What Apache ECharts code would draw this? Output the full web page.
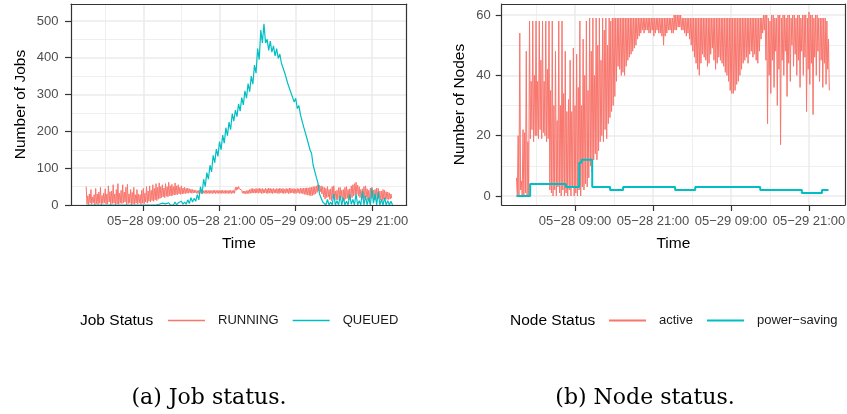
<!DOCTYPE html>
<html><head><meta charset="utf-8">
<script src="https://cdn.jsdelivr.net/npm/echarts@6/dist/echarts.min.js"></script>
<style>html,body{margin:0;padding:0;background:#fff}#c{width:847px;height:414px}</style>
</head><body><div id="c"></div>
<script>
// sampling bins (hours since 05-28 00:00)
const binHours = [0,0.5,1,1.5,2,2.5,3,3.5,4,4.5,5,5.5,6,6.5,7,7.5,8,8.5,9,9.5,10,10.5,11,11.5,12,12.5,13,13.5,14,14.5,15,15.5,16,16.5,17,17.5,18,18.5,19,19.5,20,20.5,21,21.5,22,22.5,23,23.5,24,24.5,25,25.5,26,26.5,27,27.5,28,28.5,29,29.5,30,30.5,31,31.5,32,32.5,33,33.5,34,34.5,35,35.5,36,36.5,37,37.5,38,38.5,39,39.5,40,40.5,41,41.5,42,42.5,43,43.5,44,44.5,45,45.5,46,46.5,47,47.5,48];
const fineHours = [
  0,0.25,0.5,0.75,1,1.25,1.5,1.75,
  2,2.25,2.5,2.75,3,3.25,3.5,3.75,
  4,4.25,4.5,4.75,5,5.25,5.5,5.75,
  6,6.25,6.5,6.75,7,7.25,7.5,7.75,
  8,8.25,8.5,8.75,9,9.25,9.5,9.75,
  10,10.25,10.5,10.75,11,11.25,11.5,11.75,
  12,12.25,12.5,12.75,13,13.25,13.5,13.75,
  14,14.25,14.5,14.75,15,15.25,15.5,15.75,
  16,16.25,16.5,16.75,17,17.25,17.5,17.75,
  18,18.25,18.5,18.75,19,19.25,19.5,19.75,
  20,20.25,20.5,20.75,21,21.25,21.5,21.75,
  22,22.25,22.5,22.75,23,23.25,23.5,23.75,
  24,24.25,24.5,24.75,25,25.25,25.5,25.75,
  26,26.25,26.5,26.75,27,27.25,27.5,27.75,
  28,28.25,28.5,28.75,29,29.25,29.5,29.75,
  30,30.25,30.5,30.75,31,31.25,31.5,31.75,
  32,32.25,32.5,32.75,33,33.25,33.5,33.75,
  34,34.25,34.5,34.75,35,35.25,35.5,35.75,
  36,36.25,36.5,36.75,37,37.25,37.5,37.75,
  38,38.25,38.5,38.75,39,39.25,39.5,39.75,
  40,40.25,40.5,40.75,41,41.25,41.5,41.75,
  42,42.25,42.5,42.75,43,43.25,43.5,43.75,
  44,44.25,44.5,44.75,45,45.25,45.5,45.75,
  46,46.25,46.5,46.75,47,47.25,47.5,47.75,
  48];

// (a) Job status: per-bin high / low samples
const runningHigh = [50,25,30,42,22,28,45,30,35,48, 26,32,44,30,52,36,38,55,30,42, 58,32,40,55,35,48,56,30,42,34, 48,28,42,30,28,40,45,32,50,38, 52,40,55,45,58,48,60,50,55,46, 58,50,62,52,56,50,60,52,55,48, 52,46,48,45,46,44,43,42,41,
  40,39,40,39,40,39,40,40,39,40,39,40,40,39,40,39,40,40,39,40,39,40,40,39,40,
  48,49,50,48,40,38,38,39,40,42,
  44,45,43,45,44,46,44,45,43,45,44,46,45,44,45,43,45,44,46,44,45,43,45,44,46,45,44,45,43,45,44,46,45,46,
  46,47,46,48,48,50,50,52,55,54, 52,50,48,45,50,42,44,50,52,38, 40,47,48,40,42,48,50,42,44,52, 55,58,62,54,50,42,44,50,52,44, 40,46,48,40,42,46,45,38,38,42, 40,36,35,33,30];
const runningLow = [3,0,5,2,6,0,4,1,5,0, 4,6,2,3,8,0,4,5,0,3, 2,5,4,6,8,0,4,5,0,3, 2,5,3,6,2,5,3,8,5,10, 8,12,10,14,12,16,18,20,22,20, 24,22,25,24,26,27,28,28,30,29, 30,31,31,32,32,33,32,33,33,
  32,31,32,32,31,32,31,32,31,32,31,32,31,32,31,32,31,32,31,32,31,32,31,32,32,
  40,42,44,40,32,31,30,31,31,32,
  32,33,32,33,32,33,31,32,33,32,31,33,32,31,33,32,32,31,33,32,31,32,33,31,32,33,32,31,32,33,31,32,30,29,
  28,27,26,25,26,28,30,34,38,36, 30,22,16,20,22,15,12,18,20,14, 14,18,20,12,12,16,18,14,15,20, 24,28,30,24,20,16,15,18,22,14, 12,18,20,14,15,18,18,14,12,16, 16,15,15,16,18];
const queuedHigh = [0,0,0,0,0,0,0,0,0,0,0,0,0,0,0,0,0,0,0,0,0,0,0,2,5,3,6,4,8,6,10,8,14,20,18,28,50,70,88,108,135,152,172,190,210,225,248,258,275,292,310,330,350,380,425,475,492,450,445,432,425,410,390,355,330,305,290,270,240,210,180,140,105,60,30,12,15,8,30,12,25,20,10,28,15,30,12,38,25,20,45,30,35,15,20,12,10];
const queuedLow = [0,0,0,0,0,0,0,0,0,0,0,0,0,0,0,0,0,0,0,0,0,0,0,0,0,0,0,0,0,1,2,2,4,8,10,14,30,50,70,90,115,132,150,168,188,205,228,240,255,272,290,308,328,358,395,440,440,420,415,405,398,385,360,330,305,280,262,245,212,182,150,108,75,30,8,0,0,0,0,0,0,0,0,2,0,0,0,0,0,0,5,0,0,0,0,0,0];

// (b) Node status
const activeHigh = [6,20,54,5,22,21,48,18,58,38, 58,40,58,38,58,45,58,38,58,42, 58,35,58,30,48,25,58,30,58,34, 48,28,32,45,28,49,30,47,36,58, 30,52,40,58,35,59,48,59,40,59, 50,59,45,59,55,59,50,59,58,59,
  59,59,59,59,59,59,59,59,59,59,59,59,59,59,59,59,59,59,59,59,59,59,59,59,59,59,59,59,59,59,59,59,59,59,59,59,59,
  60,60,60,60,60,
  59,59,59,59,59,59,59,59,59,59,59,59,59,59,59,59,59,59,59,59,59,59,59,59,59,59,59,59,59,59,59,59,59,59,59,59,59,59,59,59,59,59,59,59,59,59,59,59,59,59,
  60,60,60,59,58,60,60,59,59,60, 60,59,60,60,59,60,60,59,60,60, 59,60,60,59,60,60,60,59,61,60, 60,59,60,60,59,59,59,59,59,58,52];
const activeLow = [0,0,2,0,0,1,0,0,19,22, 18,20,20,19,22,19,21,20,18,19, 2,1,0,2,0,3,1,0,2,0, 1,0,2,0,3,0,1,0,2,0, 3,2,4,3,6,10,8,12,14,12, 15,18,20,18,22,19,24,26,28,30,
  33,38,43,42,40,41,40,43,45,46, 47,48,49,50,52,53,54,55,54,55, 55,54,54,55,53,54,55,54,54,53, 50,53,54,55,55,54,54,55,55,56,
  56,55,55,54,53,54,52,50,48,46, 44,42,40,44,47,46,45,43,44,47, 49,45,42,44,46,45,44,43,41,40, 38,35,34,34,35,37,38,40,42,44,
  45,46,44,47,48,46,47,45,44,48, 52,54,55,45,24,40,34,45,36,48, 30,42,17,45,40,48,33,44,38,50, 43,47,40,45,36,48,40,46,28,42,
  37,44,27,46,40,48,38,45,36,44, 37,42,35];
const powerHours = [0,2.1,7.6,9.65,10.0,11.65,14.4,16.4,24.4,27.5,37.5,43.9,47.0,48.0];
const powerNodes = [0,4,3,11,12,3,2,3,2,3,2,1,2,2];

// axes
const timeTickHours = [9,21,33,45];
const timeTickLabels = ['05\u221228 09:00','05\u221228 21:00','05\u221229 09:00','05\u221229 21:00'];
const timeMinorHours = [3,15,27,39];
const jobTicks = [0,100,200,300,400,500];
const jobMinor = [50,150,250,350,450];
const nodeTicks = [0,20,40,60];
const nodeMinor = [10,30,50];

const RED = '#F8766D', CYAN = '#00BFC4', DARK = '#333333';
const SANS = 'Liberation Sans';

function zigzag(hours, high, low, half) {
  const pts = [];
  hours.forEach((h, i) => { pts.push([h, high[i]]); pts.push([h + half, low[i]]); });
  return pts;
}
function steps(xs, ys) { return xs.map((x, i) => [x, ys[i]]); }

function xMain(g, min, max) {
  return {
    type: 'value', gridIndex: g, min: min, max: max, position: 'bottom', z: 5,
    axisLine: {show: true, onZero: false, lineStyle: {color: DARK, width: 1.2}},
    axisTick: {show: true, length: 6, customValues: timeTickHours, lineStyle: {color: DARK, width: 1.2}},
    axisLabel: {customValues: timeTickHours, formatter: v => timeTickLabels[timeTickHours.indexOf(v)],
      color: '#4D4D4D', fontSize: 13, fontFamily: SANS, margin: 10},
    splitLine: {show: false}, minorTick: {show: false},
    name: 'Time', nameLocation: 'middle', nameGap: 31,
    nameTextStyle: {color: '#000', fontSize: 15.5, fontFamily: SANS}
  };
}
function xTop(g, min, max) {
  return {type: 'value', gridIndex: g, min: min, max: max, position: 'top', z: 5,
    axisLine: {show: true, onZero: false, lineStyle: {color: DARK, width: 1.2}},
    axisTick: {show: false}, axisLabel: {show: false}, splitLine: {show: false}};
}
function yMain(g, min, max, ticks, name, gap, margin) {
  return {
    type: 'value', gridIndex: g, min: min, max: max, position: 'left', z: 5,
    axisLine: {show: true, onZero: false, lineStyle: {color: DARK, width: 1.2}},
    axisTick: {show: true, length: 6, customValues: ticks, lineStyle: {color: DARK, width: 1.2}},
    axisLabel: {customValues: ticks, color: '#4D4D4D', fontSize: 13, fontFamily: SANS, margin: margin},
    splitLine: {show: false},
    name: name, nameLocation: 'middle', nameGap: gap,
    nameTextStyle: {color: '#000', fontSize: 15.5, fontFamily: SANS}
  };
}
function yRight(g, min, max) {
  return {type: 'value', gridIndex: g, min: min, max: max, position: 'right', z: 5,
    axisLine: {show: true, onZero: false, lineStyle: {color: DARK, width: 1.2}},
    axisTick: {show: false}, axisLabel: {show: false}, splitLine: {show: false}};
}
function gridLines(xi, yi, yMajor, yMinorV) {
  const maj = {color: '#EBEBEB', width: 1.5, type: 'solid'};
  const mnr = {color: '#EBEBEB', width: 0.8, type: 'solid'};
  const data = [];
  timeMinorHours.forEach(v => data.push({xAxis: v, lineStyle: mnr}));
  yMinorV.forEach(v => data.push({yAxis: v, lineStyle: mnr}));
  timeTickHours.forEach(v => data.push({xAxis: v, lineStyle: maj}));
  yMajor.forEach(v => data.push({yAxis: v, lineStyle: maj}));
  return {type: 'line', name: 'grid' + xi, xAxisIndex: xi, yAxisIndex: yi, data: [], silent: true, z: 1,
    markLine: {silent: true, symbol: 'none', label: {show: false}, z: 1, animation: false, emphasis: {disabled: true}, data: data}};
}
function lineSeries(name, xi, yi, data, color, width, extra) {
  return Object.assign({type: 'line', name: name, xAxisIndex: xi, yAxisIndex: yi, data: data,
    showSymbol: false, symbol: 'none', z: 2,
    lineStyle: {color: color, width: width}, itemStyle: {color: color},
    emphasis: {disabled: true}}, extra || {});
}

const legendText = {fontSize: 13, color: '#1a1a1a', fontFamily: SANS, padding: [0, 0, 0, 8]};
const chart = echarts.init(document.getElementById('c'), null, {renderer: 'canvas'});
chart.setOption({
  animation: false,
  backgroundColor: '#fff',
  grid: [
    {left: 71, top: 4, width: 335.7, height: 201, outerBoundsMode: 'none', show: false},
    {left: 501.7, top: 4, width: 343.3, height: 201, outerBoundsMode: 'none', show: false}
  ],
  xAxis: [xMain(0, -2.39, 50.48), xTop(0, -2.39, 50.48), xMain(1, -2.28, 50.54), xTop(1, -2.28, 50.54)],
  yAxis: [yMain(0, 0, 546, jobTicks, 'Number of Jobs', 42, 12.5), yRight(0, 0, 546),
          yMain(1, -2.98, 63.65, nodeTicks, 'Number of Nodes', 33.5, 11), yRight(1, -2.98, 63.65)],
  legend: [
    {data: ['RUNNING', 'QUEUED'], left: 168, top: 314, padding: 0, icon: 'rect', itemWidth: 37, itemHeight: 1.6,
      itemGap: 14, selectedMode: false, textStyle: legendText},
    {data: ['active', 'power\u2212saving'], left: 609, top: 314, padding: 0, width: 238, icon: 'rect', itemWidth: 37, itemHeight: 2,
      itemGap: 14, selectedMode: false, textStyle: legendText}
  ],
  graphic: [
    {type: 'text', left: 80, top: 313, style: {text: 'Job Status', fontSize: 15.5, fontFamily: SANS, fill: '#000'}},
    {type: 'text', left: 510, top: 313, style: {text: 'Node Status', fontSize: 15.5, fontFamily: SANS, fill: '#000'}},
    {type: 'text', x: 209, y: 398, style: {text: '(a) Job status.', fontSize: 22, fontFamily: 'DejaVu Serif', fill: '#000', align: 'center', verticalAlign: 'middle'}},
    {type: 'text', x: 645, y: 398, style: {text: '(b) Node status.', fontSize: 22, fontFamily: 'DejaVu Serif', fill: '#000', align: 'center', verticalAlign: 'middle'}}
  ],
  series: [
    gridLines(0, 0, jobTicks, jobMinor),
    gridLines(2, 2, nodeTicks, nodeMinor),
    lineSeries('RUNNING', 0, 0, zigzag(fineHours, runningHigh, runningLow, 0.125), RED, 1),
    lineSeries('QUEUED', 0, 0, zigzag(binHours, queuedHigh, queuedLow, 0.25), CYAN, 1.2),
    lineSeries('active', 2, 2, zigzag(fineHours, activeHigh, activeLow, 0.125), RED, 1),
    lineSeries('power\u2212saving', 2, 2, steps(powerHours, powerNodes), CYAN, 2, {step: 'end'})
  ]
});
</script></body></html>
